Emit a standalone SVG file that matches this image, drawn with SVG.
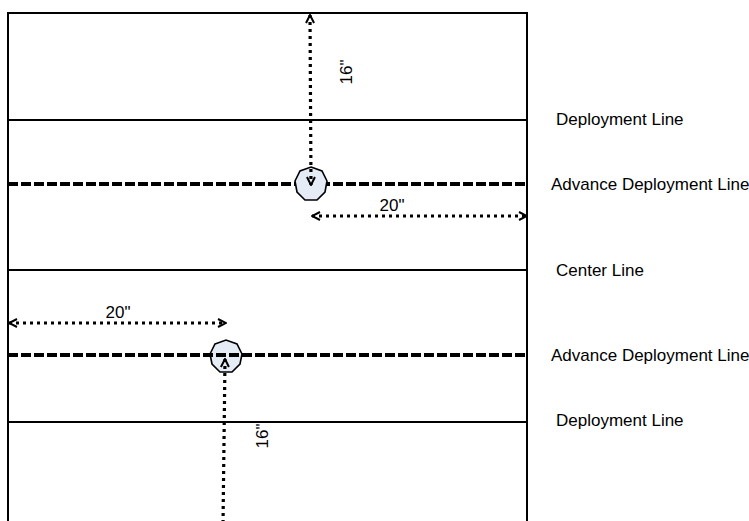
<svg xmlns="http://www.w3.org/2000/svg" width="749" height="521" viewBox="0 0 749 521">
  <style>
    .edge { stroke: #000; stroke-width: 2; fill: none; }
    .adv { stroke: #000; stroke-width: 4; stroke-dasharray: 10 3; fill: none; }
    .meas { stroke: #000; stroke-width: 3.2; stroke-dasharray: 3 4; fill: none; }
    .token { fill: #e6ecf6; stroke: #000; stroke-width: 1.6; }
    .lbl { font-family: "Liberation Sans", Arial, sans-serif; font-size: 17px; fill: #000; }
  </style>
  <defs>
    <marker id="chev" viewBox="0 0 10 10" refX="9" refY="5" markerWidth="10" markerHeight="10" markerUnits="userSpaceOnUse" orient="auto-start-reverse">
      <path d="M1,1 L9,5 L1,9" fill="none" stroke="#000" stroke-width="2"/>
    </marker>
  </defs>
  <rect width="749" height="521" fill="#fff"/>

  <!-- field outline and fixed lines -->
  <g id="field">
    <path class="edge" d="M8,522 V13 H527 V522"/>
    <line class="edge" x1="8" y1="120" x2="527" y2="120"/>
    <line class="edge" x1="8" y1="270" x2="527" y2="270"/>
    <line class="edge" x1="8" y1="422" x2="527" y2="422"/>
    <line class="adv" x1="8" y1="184" x2="527" y2="184"/>
  </g>

  <!-- line labels -->
  <g id="labels">
    <text class="lbl" x="556" y="125">Deployment Line</text>
    <text class="lbl" x="551" y="190">Advance Deployment Line</text>
    <text class="lbl" x="556" y="276">Center Line</text>
    <text class="lbl" x="551" y="361">Advance Deployment Line</text>
    <text class="lbl" x="556" y="426">Deployment Line</text>
  </g>

  <!-- deployment tokens -->
  <g id="token-top">
    <polygon class="token" points="311,167 322,171 327,181 325,192 317,200 305,200 297,192 295,181 300,171"/>
  </g>
  <g id="token-bottom">
    <polygon class="token" points="215,344 226,340 237,344 242,354 240,364 232,372 220,372 212,364 210,354"/>
  </g>

  <!-- bottom advance line passes over its token -->
  <line class="adv" x1="8" y1="355" x2="527" y2="355"/>

  <!-- measurement arrows -->
  <g id="connectors">
    <line class="meas" x1="310" y1="15" x2="311" y2="185" marker-start="url(#chev)" marker-end="url(#chev)"/>
    <line class="meas" x1="312" y1="216" x2="527" y2="216" marker-start="url(#chev)" marker-end="url(#chev)"/>
    <line class="meas" x1="9" y1="323" x2="226" y2="323" marker-start="url(#chev)" marker-end="url(#chev)"/>
    <line class="meas" x1="225" y1="359" x2="223" y2="525" marker-start="url(#chev)"/>
  </g>

  <!-- distance labels -->
  <g id="dims">
    <text class="lbl" x="392" y="211" text-anchor="middle">20"</text>
    <text class="lbl" x="118" y="318" text-anchor="middle">20"</text>
    <text class="lbl" transform="translate(352,72) rotate(-90)" text-anchor="middle">16"</text>
    <text class="lbl" transform="translate(268,436) rotate(-90)" text-anchor="middle">16"</text>
  </g>
</svg>
